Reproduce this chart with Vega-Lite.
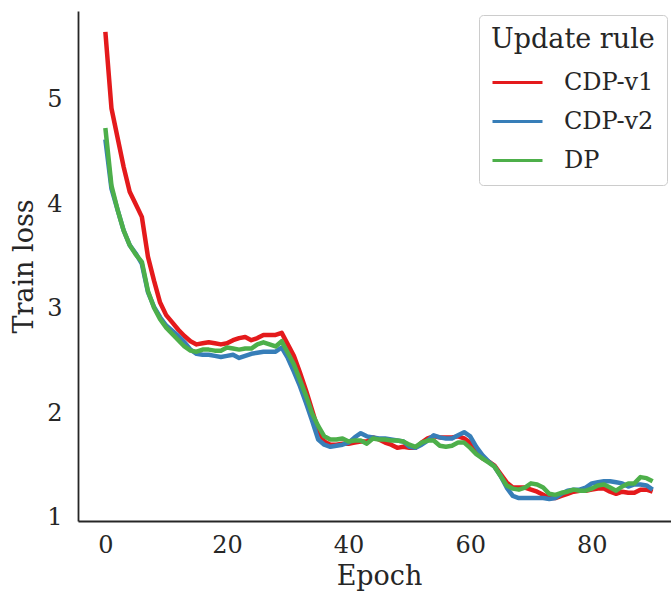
{
"$schema":"https://vega.github.io/schema/vega-lite/v6.json",
"width":602,"height":510,
"autosize":{"type":"none"},
"padding":{"left":78,"top":11,"right":0,"bottom":75},
"background":"white",
"config":{"view":{"stroke":null},"font":"DejaVu Serif",
"axis":{"domainColor":"#262626","domainWidth":1.8,"ticks":false,"grid":false,"labelColor":"#262626","titleColor":"#262626","labelFontSize":24,"titleFontSize":27,"titleFontWeight":"normal","labelFont":"DejaVu Serif","titleFont":"DejaVu Serif"}},
"datasets":{"d":[
{"epoch":0,"rule":"CDP-v1","loss":5.65},{"epoch":1,"rule":"CDP-v1","loss":4.92},{"epoch":2,"rule":"CDP-v1","loss":4.64},{"epoch":3,"rule":"CDP-v1","loss":4.36},{"epoch":4,"rule":"CDP-v1","loss":4.12},{"epoch":5,"rule":"CDP-v1","loss":4.0},{"epoch":6,"rule":"CDP-v1","loss":3.88},{"epoch":7,"rule":"CDP-v1","loss":3.5},{"epoch":8,"rule":"CDP-v1","loss":3.27},{"epoch":9,"rule":"CDP-v1","loss":3.06},
{"epoch":10,"rule":"CDP-v1","loss":2.94},{"epoch":11,"rule":"CDP-v1","loss":2.87},{"epoch":12,"rule":"CDP-v1","loss":2.8},{"epoch":13,"rule":"CDP-v1","loss":2.74},{"epoch":14,"rule":"CDP-v1","loss":2.69},{"epoch":15,"rule":"CDP-v1","loss":2.66},{"epoch":16,"rule":"CDP-v1","loss":2.67},{"epoch":17,"rule":"CDP-v1","loss":2.68},{"epoch":18,"rule":"CDP-v1","loss":2.67},{"epoch":19,"rule":"CDP-v1","loss":2.66},
{"epoch":20,"rule":"CDP-v1","loss":2.67},{"epoch":21,"rule":"CDP-v1","loss":2.7},{"epoch":22,"rule":"CDP-v1","loss":2.72},{"epoch":23,"rule":"CDP-v1","loss":2.73},{"epoch":24,"rule":"CDP-v1","loss":2.7},{"epoch":25,"rule":"CDP-v1","loss":2.72},{"epoch":26,"rule":"CDP-v1","loss":2.75},{"epoch":27,"rule":"CDP-v1","loss":2.75},{"epoch":28,"rule":"CDP-v1","loss":2.75},{"epoch":29,"rule":"CDP-v1","loss":2.77},
{"epoch":30,"rule":"CDP-v1","loss":2.66},{"epoch":31,"rule":"CDP-v1","loss":2.55},{"epoch":32,"rule":"CDP-v1","loss":2.39},{"epoch":33,"rule":"CDP-v1","loss":2.22},{"epoch":34,"rule":"CDP-v1","loss":2.03},{"epoch":35,"rule":"CDP-v1","loss":1.84},{"epoch":36,"rule":"CDP-v1","loss":1.73},{"epoch":37,"rule":"CDP-v1","loss":1.7},{"epoch":38,"rule":"CDP-v1","loss":1.7},{"epoch":39,"rule":"CDP-v1","loss":1.71},
{"epoch":40,"rule":"CDP-v1","loss":1.71},{"epoch":41,"rule":"CDP-v1","loss":1.72},{"epoch":42,"rule":"CDP-v1","loss":1.73},{"epoch":43,"rule":"CDP-v1","loss":1.73},{"epoch":44,"rule":"CDP-v1","loss":1.77},{"epoch":45,"rule":"CDP-v1","loss":1.75},{"epoch":46,"rule":"CDP-v1","loss":1.72},{"epoch":47,"rule":"CDP-v1","loss":1.7},{"epoch":48,"rule":"CDP-v1","loss":1.67},{"epoch":49,"rule":"CDP-v1","loss":1.68},
{"epoch":50,"rule":"CDP-v1","loss":1.67},{"epoch":51,"rule":"CDP-v1","loss":1.67},{"epoch":52,"rule":"CDP-v1","loss":1.72},{"epoch":53,"rule":"CDP-v1","loss":1.76},{"epoch":54,"rule":"CDP-v1","loss":1.78},{"epoch":55,"rule":"CDP-v1","loss":1.77},{"epoch":56,"rule":"CDP-v1","loss":1.77},{"epoch":57,"rule":"CDP-v1","loss":1.77},{"epoch":58,"rule":"CDP-v1","loss":1.78},{"epoch":59,"rule":"CDP-v1","loss":1.76},
{"epoch":60,"rule":"CDP-v1","loss":1.72},{"epoch":61,"rule":"CDP-v1","loss":1.63},{"epoch":62,"rule":"CDP-v1","loss":1.57},{"epoch":63,"rule":"CDP-v1","loss":1.54},{"epoch":64,"rule":"CDP-v1","loss":1.5},{"epoch":65,"rule":"CDP-v1","loss":1.42},{"epoch":66,"rule":"CDP-v1","loss":1.34},{"epoch":67,"rule":"CDP-v1","loss":1.29},{"epoch":68,"rule":"CDP-v1","loss":1.29},{"epoch":69,"rule":"CDP-v1","loss":1.29},
{"epoch":70,"rule":"CDP-v1","loss":1.27},{"epoch":71,"rule":"CDP-v1","loss":1.25},{"epoch":72,"rule":"CDP-v1","loss":1.22},{"epoch":73,"rule":"CDP-v1","loss":1.19},{"epoch":74,"rule":"CDP-v1","loss":1.19},{"epoch":75,"rule":"CDP-v1","loss":1.21},{"epoch":76,"rule":"CDP-v1","loss":1.23},{"epoch":77,"rule":"CDP-v1","loss":1.25},{"epoch":78,"rule":"CDP-v1","loss":1.26},{"epoch":79,"rule":"CDP-v1","loss":1.26},
{"epoch":80,"rule":"CDP-v1","loss":1.27},{"epoch":81,"rule":"CDP-v1","loss":1.28},{"epoch":82,"rule":"CDP-v1","loss":1.28},{"epoch":83,"rule":"CDP-v1","loss":1.25},{"epoch":84,"rule":"CDP-v1","loss":1.23},{"epoch":85,"rule":"CDP-v1","loss":1.25},{"epoch":86,"rule":"CDP-v1","loss":1.24},{"epoch":87,"rule":"CDP-v1","loss":1.24},{"epoch":88,"rule":"CDP-v1","loss":1.27},{"epoch":89,"rule":"CDP-v1","loss":1.27},{"epoch":90,"rule":"CDP-v1","loss":1.25},
{"epoch":0,"rule":"CDP-v2","loss":4.62},{"epoch":1,"rule":"CDP-v2","loss":4.15},{"epoch":2,"rule":"CDP-v2","loss":3.95},{"epoch":3,"rule":"CDP-v2","loss":3.75},{"epoch":4,"rule":"CDP-v2","loss":3.61},{"epoch":5,"rule":"CDP-v2","loss":3.53},{"epoch":6,"rule":"CDP-v2","loss":3.43},{"epoch":7,"rule":"CDP-v2","loss":3.16},{"epoch":8,"rule":"CDP-v2","loss":3.02},{"epoch":9,"rule":"CDP-v2","loss":2.92},
{"epoch":10,"rule":"CDP-v2","loss":2.84},{"epoch":11,"rule":"CDP-v2","loss":2.79},{"epoch":12,"rule":"CDP-v2","loss":2.74},{"epoch":13,"rule":"CDP-v2","loss":2.68},{"epoch":14,"rule":"CDP-v2","loss":2.61},{"epoch":15,"rule":"CDP-v2","loss":2.57},{"epoch":16,"rule":"CDP-v2","loss":2.56},{"epoch":17,"rule":"CDP-v2","loss":2.56},{"epoch":18,"rule":"CDP-v2","loss":2.55},{"epoch":19,"rule":"CDP-v2","loss":2.54},
{"epoch":20,"rule":"CDP-v2","loss":2.55},{"epoch":21,"rule":"CDP-v2","loss":2.56},{"epoch":22,"rule":"CDP-v2","loss":2.53},{"epoch":23,"rule":"CDP-v2","loss":2.55},{"epoch":24,"rule":"CDP-v2","loss":2.57},{"epoch":25,"rule":"CDP-v2","loss":2.58},{"epoch":26,"rule":"CDP-v2","loss":2.59},{"epoch":27,"rule":"CDP-v2","loss":2.59},{"epoch":28,"rule":"CDP-v2","loss":2.59},{"epoch":29,"rule":"CDP-v2","loss":2.63},
{"epoch":30,"rule":"CDP-v2","loss":2.53},{"epoch":31,"rule":"CDP-v2","loss":2.4},{"epoch":32,"rule":"CDP-v2","loss":2.26},{"epoch":33,"rule":"CDP-v2","loss":2.1},{"epoch":34,"rule":"CDP-v2","loss":1.93},{"epoch":35,"rule":"CDP-v2","loss":1.75},{"epoch":36,"rule":"CDP-v2","loss":1.7},{"epoch":37,"rule":"CDP-v2","loss":1.68},{"epoch":38,"rule":"CDP-v2","loss":1.69},{"epoch":39,"rule":"CDP-v2","loss":1.7},
{"epoch":40,"rule":"CDP-v2","loss":1.72},{"epoch":41,"rule":"CDP-v2","loss":1.77},{"epoch":42,"rule":"CDP-v2","loss":1.81},{"epoch":43,"rule":"CDP-v2","loss":1.78},{"epoch":44,"rule":"CDP-v2","loss":1.77},{"epoch":45,"rule":"CDP-v2","loss":1.76},{"epoch":46,"rule":"CDP-v2","loss":1.76},{"epoch":47,"rule":"CDP-v2","loss":1.75},{"epoch":48,"rule":"CDP-v2","loss":1.74},{"epoch":49,"rule":"CDP-v2","loss":1.73},
{"epoch":50,"rule":"CDP-v2","loss":1.68},{"epoch":51,"rule":"CDP-v2","loss":1.67},{"epoch":52,"rule":"CDP-v2","loss":1.7},{"epoch":53,"rule":"CDP-v2","loss":1.74},{"epoch":54,"rule":"CDP-v2","loss":1.79},{"epoch":55,"rule":"CDP-v2","loss":1.77},{"epoch":56,"rule":"CDP-v2","loss":1.76},{"epoch":57,"rule":"CDP-v2","loss":1.76},{"epoch":58,"rule":"CDP-v2","loss":1.79},{"epoch":59,"rule":"CDP-v2","loss":1.82},
{"epoch":60,"rule":"CDP-v2","loss":1.78},{"epoch":61,"rule":"CDP-v2","loss":1.68},{"epoch":62,"rule":"CDP-v2","loss":1.6},{"epoch":63,"rule":"CDP-v2","loss":1.54},{"epoch":64,"rule":"CDP-v2","loss":1.49},{"epoch":65,"rule":"CDP-v2","loss":1.4},{"epoch":66,"rule":"CDP-v2","loss":1.29},{"epoch":67,"rule":"CDP-v2","loss":1.21},{"epoch":68,"rule":"CDP-v2","loss":1.19},{"epoch":69,"rule":"CDP-v2","loss":1.19},
{"epoch":70,"rule":"CDP-v2","loss":1.19},{"epoch":71,"rule":"CDP-v2","loss":1.19},{"epoch":72,"rule":"CDP-v2","loss":1.19},{"epoch":73,"rule":"CDP-v2","loss":1.18},{"epoch":74,"rule":"CDP-v2","loss":1.19},{"epoch":75,"rule":"CDP-v2","loss":1.23},{"epoch":76,"rule":"CDP-v2","loss":1.26},{"epoch":77,"rule":"CDP-v2","loss":1.27},{"epoch":78,"rule":"CDP-v2","loss":1.27},{"epoch":79,"rule":"CDP-v2","loss":1.29},
{"epoch":80,"rule":"CDP-v2","loss":1.33},{"epoch":81,"rule":"CDP-v2","loss":1.34},{"epoch":82,"rule":"CDP-v2","loss":1.35},{"epoch":83,"rule":"CDP-v2","loss":1.35},{"epoch":84,"rule":"CDP-v2","loss":1.34},{"epoch":85,"rule":"CDP-v2","loss":1.33},{"epoch":86,"rule":"CDP-v2","loss":1.3},{"epoch":87,"rule":"CDP-v2","loss":1.32},{"epoch":88,"rule":"CDP-v2","loss":1.32},{"epoch":89,"rule":"CDP-v2","loss":1.31},{"epoch":90,"rule":"CDP-v2","loss":1.27},
{"epoch":0,"rule":"DP","loss":4.73},{"epoch":1,"rule":"DP","loss":4.18},{"epoch":2,"rule":"DP","loss":3.95},{"epoch":3,"rule":"DP","loss":3.75},{"epoch":4,"rule":"DP","loss":3.61},{"epoch":5,"rule":"DP","loss":3.52},{"epoch":6,"rule":"DP","loss":3.45},{"epoch":7,"rule":"DP","loss":3.17},{"epoch":8,"rule":"DP","loss":3.01},{"epoch":9,"rule":"DP","loss":2.9},
{"epoch":10,"rule":"DP","loss":2.82},{"epoch":11,"rule":"DP","loss":2.76},{"epoch":12,"rule":"DP","loss":2.7},{"epoch":13,"rule":"DP","loss":2.64},{"epoch":14,"rule":"DP","loss":2.6},{"epoch":15,"rule":"DP","loss":2.59},{"epoch":16,"rule":"DP","loss":2.61},{"epoch":17,"rule":"DP","loss":2.61},{"epoch":18,"rule":"DP","loss":2.6},{"epoch":19,"rule":"DP","loss":2.6},
{"epoch":20,"rule":"DP","loss":2.63},{"epoch":21,"rule":"DP","loss":2.62},{"epoch":22,"rule":"DP","loss":2.61},{"epoch":23,"rule":"DP","loss":2.62},{"epoch":24,"rule":"DP","loss":2.62},{"epoch":25,"rule":"DP","loss":2.66},{"epoch":26,"rule":"DP","loss":2.68},{"epoch":27,"rule":"DP","loss":2.66},{"epoch":28,"rule":"DP","loss":2.64},{"epoch":29,"rule":"DP","loss":2.69},
{"epoch":30,"rule":"DP","loss":2.58},{"epoch":31,"rule":"DP","loss":2.47},{"epoch":32,"rule":"DP","loss":2.32},{"epoch":33,"rule":"DP","loss":2.17},{"epoch":34,"rule":"DP","loss":2.0},{"epoch":35,"rule":"DP","loss":1.88},{"epoch":36,"rule":"DP","loss":1.78},{"epoch":37,"rule":"DP","loss":1.75},{"epoch":38,"rule":"DP","loss":1.75},{"epoch":39,"rule":"DP","loss":1.76},
{"epoch":40,"rule":"DP","loss":1.73},{"epoch":41,"rule":"DP","loss":1.74},{"epoch":42,"rule":"DP","loss":1.74},{"epoch":43,"rule":"DP","loss":1.71},{"epoch":44,"rule":"DP","loss":1.76},{"epoch":45,"rule":"DP","loss":1.75},{"epoch":46,"rule":"DP","loss":1.75},{"epoch":47,"rule":"DP","loss":1.74},{"epoch":48,"rule":"DP","loss":1.74},{"epoch":49,"rule":"DP","loss":1.73},
{"epoch":50,"rule":"DP","loss":1.7},{"epoch":51,"rule":"DP","loss":1.68},{"epoch":52,"rule":"DP","loss":1.72},{"epoch":53,"rule":"DP","loss":1.74},{"epoch":54,"rule":"DP","loss":1.74},{"epoch":55,"rule":"DP","loss":1.69},{"epoch":56,"rule":"DP","loss":1.68},{"epoch":57,"rule":"DP","loss":1.69},{"epoch":58,"rule":"DP","loss":1.72},{"epoch":59,"rule":"DP","loss":1.72},
{"epoch":60,"rule":"DP","loss":1.67},{"epoch":61,"rule":"DP","loss":1.61},{"epoch":62,"rule":"DP","loss":1.57},{"epoch":63,"rule":"DP","loss":1.53},{"epoch":64,"rule":"DP","loss":1.49},{"epoch":65,"rule":"DP","loss":1.4},{"epoch":66,"rule":"DP","loss":1.31},{"epoch":67,"rule":"DP","loss":1.28},{"epoch":68,"rule":"DP","loss":1.27},{"epoch":69,"rule":"DP","loss":1.29},
{"epoch":70,"rule":"DP","loss":1.33},{"epoch":71,"rule":"DP","loss":1.32},{"epoch":72,"rule":"DP","loss":1.29},{"epoch":73,"rule":"DP","loss":1.23},{"epoch":74,"rule":"DP","loss":1.22},{"epoch":75,"rule":"DP","loss":1.24},{"epoch":76,"rule":"DP","loss":1.25},{"epoch":77,"rule":"DP","loss":1.27},{"epoch":78,"rule":"DP","loss":1.26},{"epoch":79,"rule":"DP","loss":1.26},
{"epoch":80,"rule":"DP","loss":1.28},{"epoch":81,"rule":"DP","loss":1.31},{"epoch":82,"rule":"DP","loss":1.32},{"epoch":83,"rule":"DP","loss":1.29},{"epoch":84,"rule":"DP","loss":1.26},{"epoch":85,"rule":"DP","loss":1.3},{"epoch":86,"rule":"DP","loss":1.33},{"epoch":87,"rule":"DP","loss":1.33},{"epoch":88,"rule":"DP","loss":1.39},{"epoch":89,"rule":"DP","loss":1.38},{"epoch":90,"rule":"DP","loss":1.35}
]},
"data":{"name":"d"},
"mark":{"type":"line","strokeWidth":4.5,"strokeJoin":"round","strokeCap":"butt"},
"encoding":{
"x":{"field":"epoch","type":"quantitative","scale":{"domain":[-4.5,94.5],"nice":false,"zero":false},"axis":{"values":[0,20,40,60,80],"labelPadding":12,"titlePadding":6,"title":"Epoch"}},
"y":{"field":"loss","type":"quantitative","scale":{"domain":[0.97,5.85],"nice":false,"zero":false},"axis":{"values":[1,2,3,4,5],"title":"Train loss","labelPadding":16,"titlePadding":8}},
"color":{"field":"rule","type":"nominal","scale":{"domain":["CDP-v1","CDP-v2","DP"],"range":["#e41a1c","#377eb8","#4daf4a"]},
"legend":{"orient":"none","legendX":401,"legendY":4,"title":"Update rule","titleFontSize":27,"titleFontWeight":"normal","titleFont":"DejaVu Serif","labelFont":"DejaVu Serif","labelFontSize":24,"labelColor":"#262626","titleColor":"#262626","strokeColor":"#cccccc","fillColor":"white","padding":12,"cornerRadius":4,"symbolType":"stroke","symbolStrokeWidth":3,"symbolSize":2500,"rowPadding":0,"labelOffset":20,"titlePadding":2}}
}
}
